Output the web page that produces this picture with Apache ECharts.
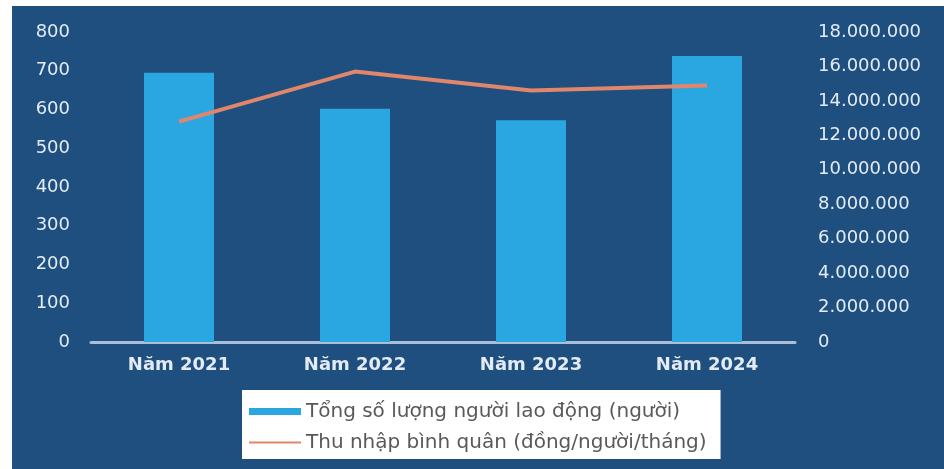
<!DOCTYPE html>
<html>
<head>
<meta charset="utf-8">
<script src="https://cdn.jsdelivr.net/npm/echarts@6/dist/echarts.min.js"></script>
<style>
  html, body { margin: 0; padding: 0; background: #ffffff; }
  #chart { position: absolute; left: 12px; top: 6px; width: 932px; height: 463px; }
</style>
</head>
<body>
<div id="chart"></div>
<script>
// dữ liệu
var years = ['Năm 2021', 'Năm 2022', 'Năm 2023', 'Năm 2024'];
var workers = [695, 602, 572, 738];
var income = [12800000, 15700000, 14600000, 14900000];
var barName = 'Tổng số lượng người lao động (người)';
var lineName = 'Thu nhập bình quân (đồng/người/tháng)';

var myChart = echarts.init(document.getElementById('chart'));
var labelFont = 'DejaVu Sans';
var option = {
    backgroundColor: '#1f4f7e',
    animation: false,
    grid: {
        left: 79,
        right: 149,
        top: 26,
        bottom: 127
    },
    legend: {
        orient: 'vertical',
        left: 230,
        top: 384,
        backgroundColor: '#ffffff',
        padding: [10, 14, 5, 6],
        itemGap: 8,
        itemWidth: 52,
        itemHeight: 7,
        textStyle: { color: '#595959', fontSize: 20, lineHeight: 23, fontFamily: labelFont },
        data: [
            { name: barName, icon: 'rect' },
            { name: lineName, itemStyle: { opacity: 0 } }
        ]
    },
    xAxis: {
        type: 'category',
        data: years,
        axisLine: { lineStyle: { color: '#a9bfd6', width: 3 } },
        axisTick: { show: false },
        axisLabel: { color: '#e3ebf4', fontSize: 18, fontWeight: 'bold', fontFamily: labelFont, margin: 14 }
    },
    yAxis: [
        {
            type: 'value',
            min: 0,
            max: 800,
            interval: 100,
            splitLine: { show: false },
            axisLine: { show: false },
            axisLabel: { color: '#e3ebf4', fontSize: 18, fontFamily: labelFont, margin: 21 }
        },
        {
            type: 'value',
            min: 0,
            max: 18000000,
            interval: 2000000,
            splitLine: { show: false },
            axisLine: { show: false },
            axisLabel: {
                color: '#e3ebf4', fontSize: 18, fontFamily: labelFont, margin: 23,
                formatter: function (v) { return String(v).replace(/\B(?=(\d{3})+(?!\d))/g, '.'); }
            }
        }
    ],
    series: [
        {
            name: barName,
            type: 'bar',
            barWidth: 70,
            itemStyle: { color: '#2aa7e1' },
            data: workers
        },
        {
            name: lineName,
            type: 'line',
            yAxisIndex: 1,
            symbol: 'none',
            lineStyle: { color: '#e0866a', width: 4 },
            itemStyle: { color: '#e0866a' },
            data: income
        }
    ]
};
myChart.setOption(option, true);
</script>
</body>
</html>
